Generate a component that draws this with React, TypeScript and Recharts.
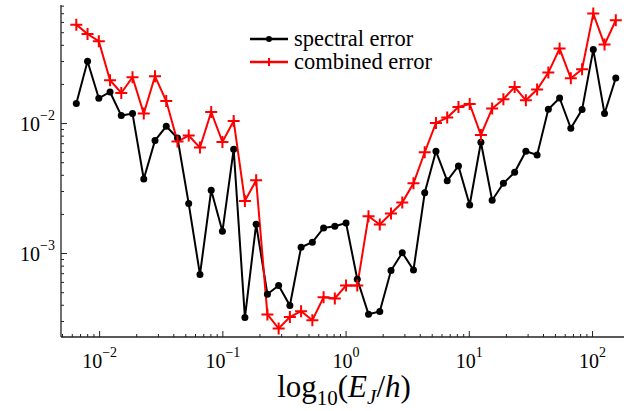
import React from 'react';
import { LineChart, Line, XAxis, YAxis, Legend } from 'recharts';

// E_J/h sample points (log-spaced)
const ejValues = [
  0.00647, 0.00798, 0.00985, 0.01215, 0.01499, 0.01849, 0.02282, 0.02815, 0.03473, 0.04285,
  0.05284, 0.06521, 0.08044, 0.09922, 0.1224, 0.151, 0.1863, 0.2299, 0.2836, 0.3499,
  0.4315, 0.5324, 0.6569, 0.8103, 0.9995, 1.233, 1.521, 1.877, 2.315, 2.857,
  3.524, 4.347, 5.363, 6.616, 8.162, 10.07, 12.42, 15.32, 18.91, 23.33,
  28.77, 35.5, 43.79, 54.03, 66.65, 82.22, 101.4, 125.1, 154.4,
];

const spectralError = [
  0.01425, 0.03014, 0.01565, 0.0175, 0.01152, 0.01194, 0.003748, 0.0074, 0.009533, 0.007746,
  0.002424, 0.000689, 0.003069, 0.001484, 0.006343, 0.000322, 0.00168, 0.000486, 0.000567, 0.000398,
  0.001118, 0.001221, 0.001573, 0.001622, 0.001719, 0.000634, 0.000341, 0.000358, 0.00074, 0.001014,
  0.000748, 0.002936, 0.006121, 0.003631, 0.004718, 0.002365, 0.007182, 0.00257, 0.003473, 0.00422,
  0.006121, 0.005735, 0.01288, 0.01574, 0.0092, 0.01281, 0.03708, 0.01194, 0.02243,
];

const combinedError = [
  0.0577, 0.0489, 0.043, 0.02153, 0.01719, 0.02271, 0.01194, 0.02311, 0.01492, 0.007271,
  0.008084, 0.006536, 0.01228, 0.00722, 0.01047, 0.002538, 0.003663, 0.00034, 0.000265, 0.000325,
  0.00036, 0.000307, 0.000461, 0.000451, 0.000567, 0.000567, 0.001936, 0.001671, 0.002031, 0.002467,
  0.003473, 0.006015, 0.01011, 0.01112, 0.01341, 0.01415, 0.00817, 0.01304, 0.01538, 0.01912,
  0.0151, 0.01826, 0.02467, 0.03774, 0.02231, 0.02616, 0.07018, 0.04052, 0.06231,
];

const xDomain: [number, number] = [0.00486, 180];
const yDomain: [number, number] = [0.000228, 0.0817];

const data = ejValues.map((x, i) => ({
  x,
  spectral: spectralError[i],
  combined: combinedError[i],
}));

const FONT = "'Liberation Serif', 'DejaVu Serif', serif";

// major + minor log ticks that fall inside a domain
function logTicks([lo, hi]: [number, number]) {
  const out: number[] = [];
  for (let e = -5; e <= 3; e++) {
    for (let m = 1; m <= 9; m++) {
      const v = m * Math.pow(10, e);
      if (v >= lo && v <= hi) out.push(v);
    }
  }
  return out;
}

const xTicks = logTicks(xDomain);
const yTicks = logTicks(yDomain);

function decade(v: number) {
  const e = Math.round(Math.log10(v));
  return { e, major: Math.abs(Math.log10(v) - e) < 1e-6 };
}

const expText = (e: number) => (e < 0 ? '\u2212' + Math.abs(e) : String(e));

function XTick(props: any) {
  const { x, y, payload } = props;
  const { e, major } = decade(payload.value);
  return (
    <g>
      <line x1={x} x2={x} y1={y} y2={y - (major ? 6 : 3)} stroke="#222" strokeWidth={1} />
      {major && (
        <text x={x} y={y + 31} textAnchor="middle" fontFamily={FONT} fontSize={20} fill="#000">
          10
          <tspan dy={-11} fontSize={14}>{expText(e)}</tspan>
        </text>
      )}
    </g>
  );
}

function YTick(props: any) {
  const { x, y, payload } = props;
  const { e, major } = decade(payload.value);
  return (
    <g>
      <line x1={x} x2={x + (major ? 6 : 3)} y1={y} y2={y} stroke="#222" strokeWidth={1} />
      {major && (
        <text x={x - 6} y={y + 7} textAnchor="end" fontFamily={FONT} fontSize={20} fill="#000">
          10
          <tspan dy={-11} fontSize={14}>{expText(e)}</tspan>
        </text>
      )}
    </g>
  );
}

function PlusDot(props: any) {
  const { cx, cy, index } = props;
  if (cx == null || cy == null) return <g key={index} />;
  return (
    <path
      key={index}
      d={`M${cx - 6},${cy}h12M${cx},${cy - 6}v12`}
      stroke="#ff0000"
      strokeWidth={2}
      fill="none"
    />
  );
}

function LegendBox() {
  const rows = [
    { label: 'spectral error', color: '#000', plus: false },
    { label: 'combined error', color: '#ff0000', plus: true },
  ];
  return (
    <svg width={220} height={64} style={{ overflow: 'visible' }}>
      {rows.map((r, i) => {
        const cy = 19 + i * 23;
        return (
          <g key={r.label}>
            <line x1={2} x2={40} y1={cy} y2={cy} stroke={r.color} strokeWidth={2.5} />
            {r.plus ? (
              <path d={`M${21 - 4},${cy}h8M21,${cy - 4}v8`} stroke={r.color} strokeWidth={2} />
            ) : (
              <circle cx={21} cy={cy} r={3} fill={r.color} />
            )}
            <text x={46} y={cy + 7} fontFamily={FONT} fontSize={22.5} fill="#000">
              {r.label}
            </text>
          </g>
        );
      })}
    </svg>
  );
}

export default function App() {
  return (
    <div style={{ position: 'absolute', left: 0, top: 0, width: 629, height: 411, background: '#fff' }}>
      <LineChart width={629} height={411} data={data} margin={{ top: 5, right: 5, bottom: 0, left: 0 }}>
        <XAxis
          dataKey="x"
          type="number"
          scale="log"
          domain={xDomain}
          allowDataOverflow
          ticks={xTicks}
          interval={0}
          tick={<XTick />}
          tickLine={false}
          tickSize={0}
          tickMargin={0}
          height={74}
          axisLine={{ stroke: '#222', strokeWidth: 1.3 }}
        />
        <XAxis
          xAxisId="top"
          orientation="top"
          dataKey="x"
          type="number"
          scale="log"
          domain={xDomain}
          allowDataOverflow
          tick={false}
          tickLine={false}
          height={0}
          axisLine={{ stroke: '#222', strokeWidth: 1.3 }}
        />
        <YAxis
          type="number"
          scale="log"
          domain={yDomain}
          allowDataOverflow
          ticks={yTicks}
          interval={0}
          tick={<YTick />}
          tickLine={false}
          tickSize={0}
          tickMargin={0}
          width={61}
          axisLine={{ stroke: '#222', strokeWidth: 1.3 }}
        />
        <YAxis
          yAxisId="right"
          orientation="right"
          type="number"
          scale="log"
          domain={yDomain}
          allowDataOverflow
          tick={false}
          tickLine={false}
          width={0}
          axisLine={{ stroke: '#222', strokeWidth: 1.3 }}
        />
        <Line
          dataKey="spectral"
          stroke="#000"
          strokeWidth={2}
          dot={{ r: 3.5, fill: '#000', stroke: '#000', strokeWidth: 0 }}
          isAnimationActive={false}
        />
        <Line
          dataKey="combined"
          stroke="#ff0000"
          strokeWidth={2}
          dot={<PlusDot />}
          isAnimationActive={false}
        />
        <Legend
          layout="horizontal"
          verticalAlign="middle"
          align="center"
          content={<LegendBox />}
          wrapperStyle={{ position: 'absolute', left: 248, top: 20, width: 220, height: 64 }}
        />
      </LineChart>
      <svg
        width={629}
        height={44}
        style={{ position: 'absolute', left: 0, top: 367, pointerEvents: 'none' }}
      >
        <text x={344} y={30} textAnchor="middle" fontFamily={FONT} fontSize={31} fill="#000">
          log
          <tspan dy={8} fontSize={21}>10</tspan>
          <tspan dy={-8}>(</tspan>
          <tspan fontStyle="italic">E</tspan>
          <tspan dy={7} fontSize={21} fontStyle="italic">J</tspan>
          <tspan dy={-7}>/</tspan>
          <tspan fontStyle="italic">h</tspan>
          <tspan>)</tspan>
        </text>
      </svg>
    </div>
  );
}
